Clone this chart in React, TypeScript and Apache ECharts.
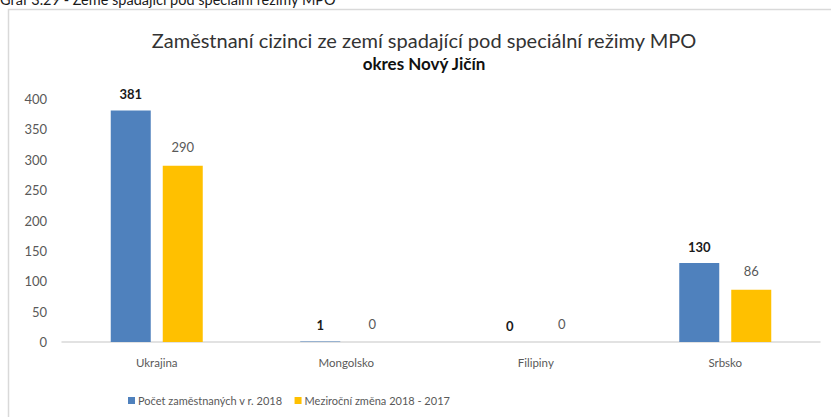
import React, { useEffect, useRef } from "react";
import * as echarts from "echarts";

const categories = ["Ukrajina", "Mongolsko", "Filipiny", "Srbsko"];
const employed2018 = [381, 1, 0, 130];
const change2018_2017 = [290, 0, 0, 86];
const seriesNames = ["Počet zaměstnaných v r. 2018", "Meziroční změna 2018 - 2017"];
const yTicks = { min: 0, max: 400, interval: 50 };

const FONT = "Lato, 'Noto Sans', sans-serif";

export default function App() {
  const ref = useRef<HTMLDivElement>(null);
  useEffect(() => {
    if (!ref.current) return;
    const chart = echarts.init(ref.current, undefined, { renderer: "svg" });
    chart.setOption({
      animation: false,
      backgroundColor: "#ffffff",
      textStyle: { fontFamily: FONT },
      graphic: [
        {
          type: "rect",
          shape: { x: 8.5, y: 9.5, width: 840, height: 420 },
          style: { fill: "none", stroke: "#d9d9d9", lineWidth: 1.5 },
          silent: true,
        },
        {
          type: "text",
          x: 0,
          y: 7,
          style: {
            text: "Graf 3.29 - Země spadající pod speciální režimy MPO",
            font: "14.5px " + FONT,
            fill: "#1a1a1a",
            textVerticalAlign: "bottom",
          },
        },
        {
          type: "text",
          x: 424,
          y: 40,
          style: {
            text: "Zaměstnaní cizinci ze zemí spadající pod speciální režimy MPO",
            font: "20px " + FONT,
            fill: "#333333",
            textAlign: "center",
            textVerticalAlign: "middle",
          },
        },
        {
          type: "text",
          x: 424,
          y: 63,
          style: {
            text: "okres Nový Jičín",
            font: "bold 17px " + FONT,
            fill: "#111111",
            textAlign: "center",
            textVerticalAlign: "middle",
          },
        },
      ],
      legend: {
        left: 123,
        top: 390,
        icon: "rect",
        itemWidth: 7,
        itemHeight: 7,
        itemGap: 12,
        textStyle: { fontSize: 11, color: "#595959", fontFamily: FONT, padding: [0, 0, 0, -2] },
        data: seriesNames,
      },
      grid: { left: 62, right: 11, top: 99, bottom: 75 },
      xAxis: {
        type: "category",
        data: categories,
        axisLine: { lineStyle: { color: "#d9d9d9", width: 1.5 } },
        axisTick: { show: false },
        axisLabel: { color: "#595959", fontSize: 11.5, margin: 14, fontFamily: FONT },
      },
      yAxis: {
        type: "value",
        min: yTicks.min,
        max: yTicks.max,
        interval: yTicks.interval,
        splitLine: { show: false },
        axisLine: { show: false },
        axisTick: { show: false },
        axisLabel: { color: "#595959", fontSize: 13, margin: 15, fontFamily: FONT },
      },
      series: [
        {
          name: seriesNames[0],
          type: "bar",
          data: employed2018,
          barWidth: 40,
          barGap: "30%",
          itemStyle: { color: "#4f81bd" },
          label: {
            show: true,
            position: "top",
            distance: 10,
            color: "#1a1a1a",
            fontWeight: "bold",
            fontSize: 13,
            fontFamily: FONT,
          },
        },
        {
          name: seriesNames[1],
          type: "bar",
          data: change2018_2017,
          barWidth: 40,
          itemStyle: { color: "#ffc000" },
          label: {
            show: true,
            position: "top",
            distance: 12,
            color: "#595959",
            fontSize: 13,
            fontFamily: FONT,
          },
        },
      ],
    });
    return () => chart.dispose();
  }, []);
  return (
    <div
      ref={ref}
      style={{ position: "fixed", left: 0, top: 0, width: 831, height: 417 }}
    />
  );
}
